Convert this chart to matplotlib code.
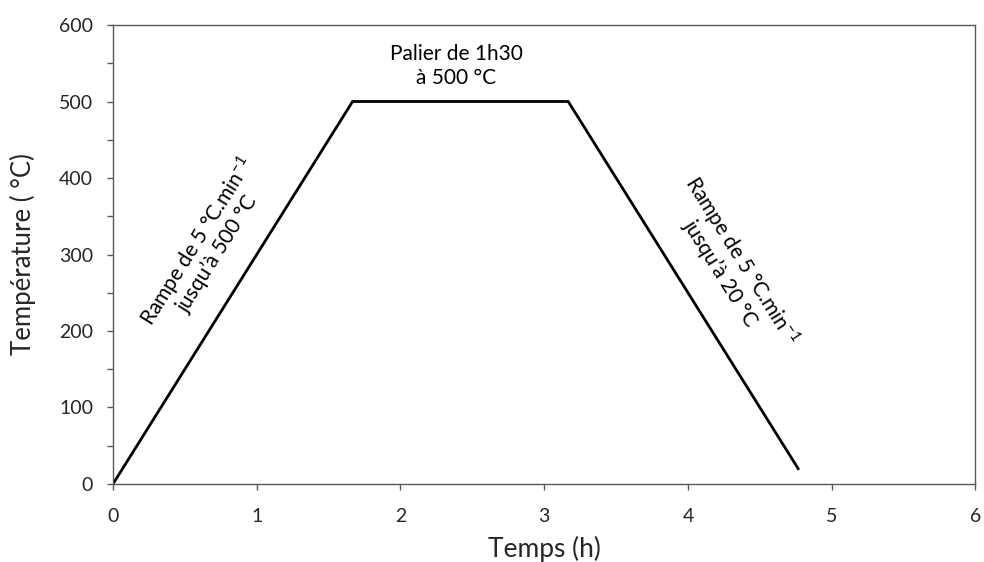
import matplotlib
matplotlib.use("Agg")
import matplotlib.pyplot as plt
from matplotlib.ticker import MultipleLocator

plt.rcParams['font.family'] = ['Lato', 'DejaVu Sans']
plt.rcParams['mathtext.fontset'] = 'custom'
plt.rcParams['mathtext.rm'] = 'Lato'
plt.rcParams['mathtext.it'] = 'Lato'

# Thermal profile: ramp up, plateau, ramp down
time_h = [0, 1.667, 3.167, 4.767]
temp_c = [0, 500, 500, 20]

x_ticks = [0, 1, 2, 3, 4, 5, 6]
y_ticks = [0, 100, 200, 300, 400, 500, 600]

text_color = '#262626'
spine_color = '#595959'

fig = plt.figure(figsize=(9.84, 5.62), dpi=100)
ax = fig.add_axes([0.1148, 0.1388, 0.8765, 0.8167])

ax.plot(time_h, temp_c, color='black', linewidth=2.0, solid_joinstyle='miter')

ax.set_xlim(0, 6)
ax.set_ylim(0, 600)
ax.set_xticks(x_ticks)
ax.set_yticks(y_ticks)
ax.yaxis.set_minor_locator(MultipleLocator(50))
ax.tick_params(axis='both', which='both', direction='out', length=4.3,
               width=1, color=spine_color, labelsize=14, labelcolor=text_color)
ax.tick_params(axis='x', pad=13)
ax.tick_params(axis='y', pad=10)
for s in ax.spines.values():
    s.set_color(spine_color)
    s.set_linewidth(1.0)

ax.set_xlabel('Temps (h)', fontsize=19, color=text_color)
ax.xaxis.set_label_coords(0.5, -0.112)
ax.set_ylabel('Température ( °C)', fontsize=18.5, color=text_color)
ax.yaxis.set_label_coords(-0.089, 0.5)

ax.text(2.39, 546, 'Palier de 1h30\nà 500 °C', ha='center', va='center',
        fontsize=15, color='black', linespacing=1.25)

ax.text(0.65, 310, 'Rampe de 5 °C.min$^{-1}$\njusqu\u2019à 500 °C',
        ha='center', va='center', rotation=58, rotation_mode='anchor',
        fontsize=15, color='black', linespacing=1.0)

ax.text(4.31, 285, 'Rampe de 5 °C.min$^{-1}$\njusqu\u2019à 20 °C',
        ha='center', va='center', rotation=-58, rotation_mode='anchor',
        fontsize=15, color='black', linespacing=1.0)

fig.savefig('out.png', dpi=100, facecolor='white')
